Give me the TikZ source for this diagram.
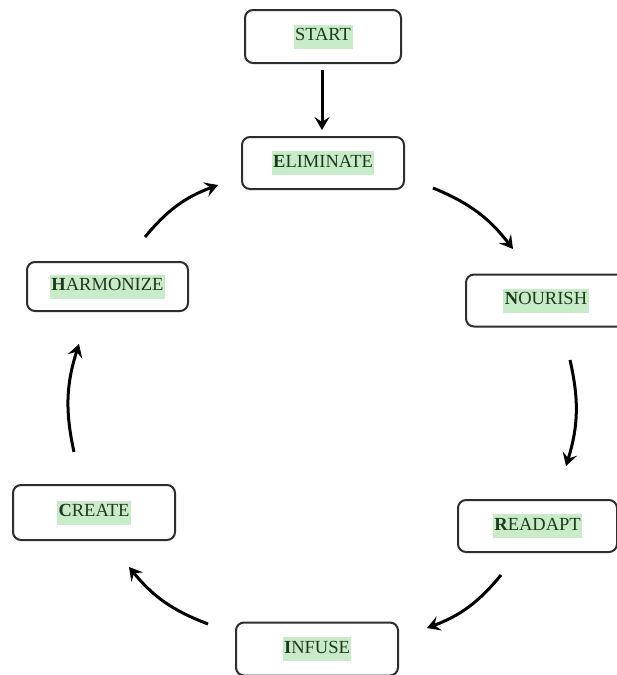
\documentclass[tikz,border=0pt]{standalone}
\usepackage{fontspec}
\setmainfont{Liberation Serif}
\usetikzlibrary{arrows.meta,calc}
\definecolor{hlgreen}{HTML}{C8ECC8}
\definecolor{txtgreen}{HTML}{1E3A1E}
\definecolor{boxline}{HTML}{2E2E2E}
\newcommand{\steplabel}[2]{\setlength{\fboxsep}{1.5pt}\colorbox{hlgreen}{\strut\textcolor{txtgreen}{\textbf{#1}#2}}}
\begin{document}
\begin{tikzpicture}[x=1pt,y=-1pt,
  stepbox/.style={draw=boxline, line width=2pt, rounded corners=8pt, fill=white,
    minimum width=160pt, minimum height=52pt, inner sep=0pt,
    font=\fontsize{18.5}{21}\selectfont},
  flow/.style={line width=3pt, -{Stealth[length=13pt,width=15pt,inset=5pt]}},
  cyc/.style={flow, bend left=15}]
  \useasboundingbox (0,0) rectangle (617,675);

  % step boxes
  \node[stepbox, minimum width=156pt, minimum height=53pt] (start) at (323,36.5) {\steplabel{}{START}};
  \node[stepbox, minimum width=162pt] (elim) at (323,163) {\steplabel{E}{LIMINATE}};
  \node[stepbox, minimum width=161pt, minimum height=49pt] (harm) at (107.5,286.5) {\steplabel{H}{ARMONIZE}};
  \node[stepbox] (nour) at (546,300.5) {\steplabel{N}{OURISH}};
  \node[stepbox, minimum width=159pt] (read) at (537.5,526) {\steplabel{R}{EADAPT}};
  \node[stepbox, minimum width=162pt, minimum height=53pt] (inf) at (317,649) {\steplabel{I}{NFUSE}};
  \node[stepbox, minimum width=162pt, minimum height=55pt] (crea) at (94,512.5) {\steplabel{C}{REATE}};

  % arrow end points
  \coordinate (s0) at (322,70);   \coordinate (t0) at (322,130);
  \coordinate (s1) at (433,188);  \coordinate (t1) at (513,249);
  \coordinate (s2) at (570,360);  \coordinate (t2) at (566,466);
  \coordinate (s3) at (501,575);  \coordinate (t3) at (427,628);
  \coordinate (s4) at (208,624);  \coordinate (t4) at (129,567);
  \coordinate (s5) at (74,452);   \coordinate (t5) at (79,344);
  \coordinate (s6) at (145,237);  \coordinate (t6) at (218,185);

  % connectors
  \draw[flow] (s0) -- (t0);
  \draw[cyc] (s1) to (t1);
  \draw[cyc] (s2) to (t2);
  \draw[cyc] (s3) to (t3);
  \draw[cyc] (s4) to (t4);
  \draw[cyc] (s5) to (t5);
  \draw[cyc] (s6) to (t6);
\end{tikzpicture}
\end{document}
